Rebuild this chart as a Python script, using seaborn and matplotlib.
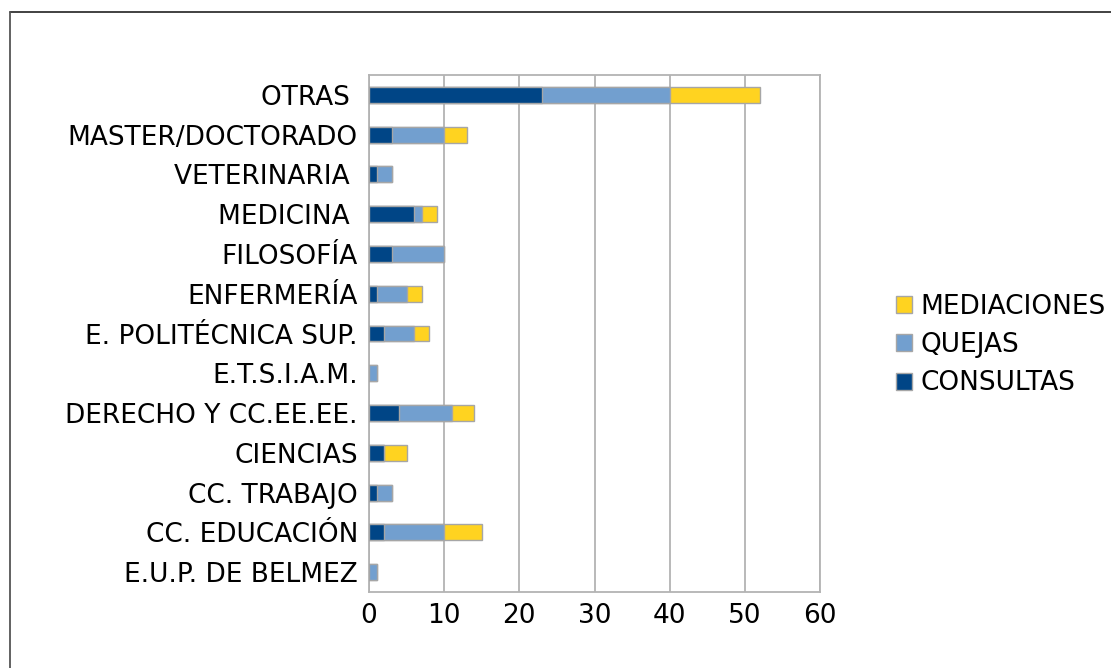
import matplotlib
matplotlib.use("Agg")
import matplotlib.pyplot as plt
from matplotlib.patches import Patch
from matplotlib.lines import Line2D
import seaborn as sns
import pandas as pd

categories = ["OTRAS ", "MASTER/DOCTORADO", "VETERINARIA ", "MEDICINA ", "FILOSOFÍA",
              "ENFERMERÍA", "E. POLITÉCNICA SUP.", "E.T.S.I.A.M.", "DERECHO Y CC.EE.EE.",
              "CIENCIAS", "CC. TRABAJO", "CC. EDUCACIÓN", "E.U.P. DE BELMEZ"]
consultas = [23, 3, 1, 6, 3, 1, 2, 0, 4, 2, 1, 2, 0]
quejas = [17, 7, 2, 1, 7, 4, 4, 1, 7, 0, 2, 8, 1]
mediaciones = [12, 3, 0, 2, 0, 2, 2, 0, 3, 3, 0, 5, 0]
series_names = ["MEDIACIONES", "QUEJAS", "CONSULTAS"]

c_cons = "#004586"
c_quej = "#729fcf"
c_med = "#ffd320"

df = pd.DataFrame({"cat": categories, "C": consultas, "Q": quejas, "M": mediaciones})
df["CQ"] = df["C"] + df["Q"]
df["CQM"] = df["CQ"] + df["M"]

sns.set_theme(style="white")
plt.rcParams['font.family'] = 'sans-serif'
plt.rcParams['font.sans-serif'] = ['DejaVu Sans']
plt.rcParams['text.color'] = 'black'
plt.rcParams['xtick.color'] = 'black'
plt.rcParams['ytick.color'] = 'black'

fig = plt.figure(figsize=(11.11, 6.68), dpi=100)
ax = fig.add_axes([369/1111, 1-592/668, (820-369)/1111, (592-75)/668])

edge = "#a6a6a6"
sns.barplot(data=df, y="cat", x="CQM", order=categories, color=c_med, saturation=1,
            width=0.4, edgecolor=edge, linewidth=1, ax=ax, orient="h", zorder=3)
sns.barplot(data=df, y="cat", x="CQ", order=categories, color=c_quej, saturation=1,
            width=0.4, edgecolor=edge, linewidth=1, ax=ax, orient="h", zorder=4)
sns.barplot(data=df, y="cat", x="C", order=categories, color=c_cons, saturation=1,
            width=0.4, edgecolor=edge, linewidth=1, ax=ax, orient="h", zorder=5)

for p in ax.patches:
    if p.get_width() == 0:
        p.set_visible(False)

ax.set_xlim(0, 60)
ax.set_ylim(len(categories) - 0.5, -0.5)
ax.set_xticks(range(0, 61, 10))
ax.set_xlabel("")
ax.set_ylabel("")
ax.xaxis.grid(True, color="#b3b3b3", linewidth=1.3, zorder=0)
ax.yaxis.grid(False)
ax.set_axisbelow(True)
for s in ax.spines.values():
    s.set_color("#b3b3b3")
    s.set_linewidth(1.3)
ax.tick_params(axis="both", length=0, labelsize=19, labelcolor="black")
ax.tick_params(axis="y", pad=8)
ax.tick_params(axis="x", pad=8)
for t in ax.get_xticklabels() + ax.get_yticklabels():
    t.set_fontfamily("DejaVu Sans")

handles = [Patch(facecolor=c_med, edgecolor=edge),
           Patch(facecolor=c_quej, edgecolor=edge),
           Patch(facecolor=c_cons, edgecolor=edge)]
leg = fig.legend(handles, series_names,
                 loc="center left", bbox_to_anchor=(896/1111, 1-345/668),
                 frameon=False, handlelength=0.62, handleheight=0.62,
                 handletextpad=0.3, labelspacing=0.47, borderaxespad=0, borderpad=0,
                 prop={"family": "DejaVu Sans", "size": 19})
for t in leg.get_texts():
    t.set_color("black")

fig.add_artist(Line2D([10/1111, 1], [1-12/668, 1-12/668], transform=fig.transFigure,
                      color="#333333", linewidth=1.3))
fig.add_artist(Line2D([10/1111, 10/1111], [0, 1-12/668], transform=fig.transFigure,
                      color="#555555", linewidth=1.3))

fig.savefig("out.png", dpi=100)
